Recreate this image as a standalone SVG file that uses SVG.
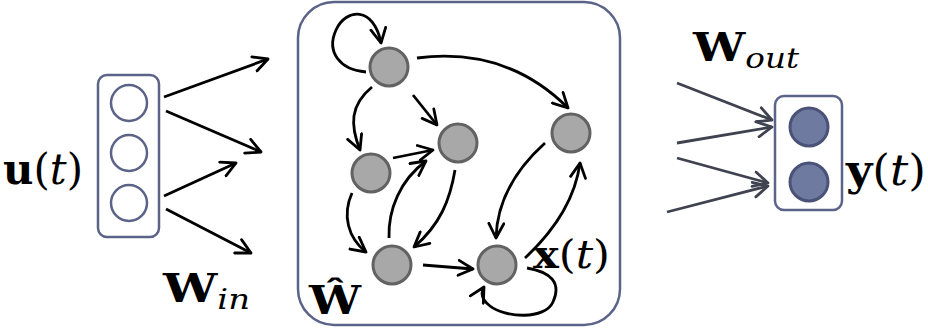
<svg xmlns="http://www.w3.org/2000/svg" width="928" height="335" viewBox="0 0 928 335">
<defs>
<style>
.box{fill:none;stroke:#5b6388;stroke-width:2.5}
.in{fill:#fff;stroke:#5b6388;stroke-width:2.5}
.node{fill:#a8a8a8;stroke:#626262;stroke-width:3}
.out{fill:#6e7aa0;stroke:#4a5278;stroke-width:3}
.e{fill:none;stroke:#000;stroke-width:2.8;marker-end:url(#ah)}
.eo{fill:none;stroke:#3f4350;stroke-width:2.8;marker-end:url(#aho)}
.t{font-family:"DejaVu Serif","Liberation Serif",serif;fill:#000}
</style>
<marker id="ah" viewBox="0 0 18 18" refX="16" refY="9" markerWidth="18" markerHeight="18" markerUnits="userSpaceOnUse" orient="auto">
<path d="M1.5,1.5 L16,9 L1.5,16.5" fill="none" stroke="#000" stroke-width="2.8" stroke-linecap="round" stroke-linejoin="round"/>
</marker>
<marker id="aho" viewBox="0 0 18 18" refX="16" refY="9" markerWidth="18" markerHeight="18" markerUnits="userSpaceOnUse" orient="auto">
<path d="M1.5,1.5 L16,9 L1.5,16.5" fill="none" stroke="#3f4350" stroke-width="2.8" stroke-linecap="round" stroke-linejoin="round"/>
</marker>
</defs>
<rect width="928" height="335" fill="#fff"/>

<g id="input">
<rect class="box" x="98" y="75" width="61" height="162" rx="9"/>
<circle class="in" cx="129" cy="103" r="18"/>
<circle class="in" cx="129" cy="153" r="18"/>
<circle class="in" cx="129" cy="203" r="18"/>
</g>

<g id="reservoir">
<rect class="box" x="298" y="2" width="322" height="323" rx="36"/>
</g>

<g id="n1"><circle class="node" cx="389" cy="67" r="19"/></g>
<g id="n2"><circle class="node" cx="458" cy="143" r="19"/></g>
<g id="n3"><circle class="node" cx="371" cy="173" r="19"/></g>
<g id="n4"><circle class="node" cx="392" cy="265" r="19"/></g>
<g id="n5"><circle class="node" cx="497" cy="265" r="19"/></g>
<g id="n6"><circle class="node" cx="571" cy="133" r="19"/></g>

<g id="output">
<rect class="box" x="775" y="96" width="67" height="114" rx="9"/>
<circle class="out" cx="809" cy="127" r="19"/>
<circle class="out" cx="809" cy="182" r="19"/>
</g>

<g id="connectors">
<path class="e" d="M164,97 L268,59"/>
<path class="e" d="M166,111 L261,152"/>
<path class="e" d="M164,196 L236,163"/>
<path class="e" d="M166,209 L251,253"/>

<path class="e" d="M366,72 C340,70 326,52 336,30 C346,8 374,6 381,43"/>
<path class="e" d="M417,58 C480,50 530,70 568,108"/>
<path class="e" d="M372,87 C350,105 350,125 360,150"/>
<path class="e" d="M413,95 L437,125"/>
<path class="e" d="M393,158 L433,150"/>
<path class="e" d="M352,193 C342,215 348,238 366,252"/>
<path class="e" d="M389,238 C388,210 400,180 426,161"/>
<path class="e" d="M455,170 C450,200 440,225 414,247"/>
<path class="e" d="M423,265 L473,269"/>
<path class="e" d="M545,143 C515,170 497,200 496,238"/>
<path class="e" d="M525,258 C555,230 575,200 580,163"/>
<path class="e" d="M527,268 C550,272 562,282 553,302 C545,320 505,318 490,306 C482,300 480,294 484,287"/>

<path class="eo" d="M677,83 L772,120"/>
<path class="eo" d="M677,143 L772,127"/>
<path class="eo" d="M677,158 L768,183"/>
<path class="eo" d="M667,212 L768,186"/>
</g>

<g id="labels">
<text class="t" x="3" y="184" font-size="42" textLength="80" lengthAdjust="spacingAndGlyphs"><tspan font-weight="bold">u</tspan>(<tspan font-style="italic">t</tspan>)</text>
<text class="t" x="163" y="302" font-size="40" textLength="87" lengthAdjust="spacingAndGlyphs"><tspan font-weight="bold">W</tspan><tspan font-style="italic" font-size="28" dy="7">in</tspan></text>
<text class="t" x="309" y="314" font-size="40" font-weight="bold" textLength="52" lengthAdjust="spacingAndGlyphs">Ŵ</text>
<text class="t" x="533" y="268" font-size="40" textLength="77" lengthAdjust="spacingAndGlyphs"><tspan font-weight="bold">x</tspan>(<tspan font-style="italic">t</tspan>)</text>
<text class="t" x="693" y="61" font-size="40" textLength="106" lengthAdjust="spacingAndGlyphs"><tspan font-weight="bold">W</tspan><tspan font-style="italic" font-size="28" dy="7">out</tspan></text>
<text class="t" x="846" y="185" font-size="42" textLength="80" lengthAdjust="spacingAndGlyphs"><tspan font-weight="bold">y</tspan>(<tspan font-style="italic">t</tspan>)</text>
</g>
</svg>
